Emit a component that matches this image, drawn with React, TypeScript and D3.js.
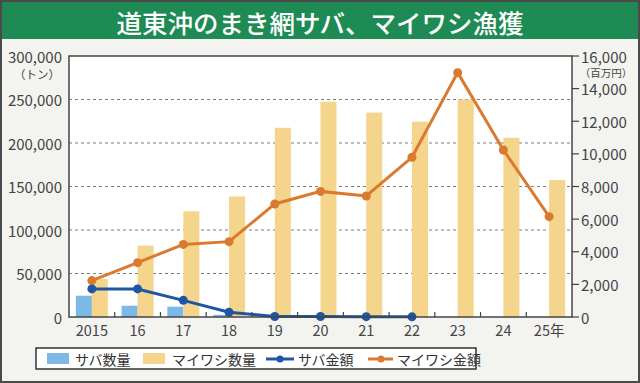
import React from "react";
import * as d3 from "d3";

const years = ["2015", "16", "17", "18", "19", "20", "21", "22", "23", "24", "25年"];
const sabaQty = [24500, 13000, 11800, 2500, 500, 0, 0, 0, 0, 0, 0];
const iwashiQty = [43500, 82000, 121500, 138500, 217500, 247500, 235000, 224500, 250000, 206000, 157500];
const sabaAmt: (number | null)[] = [1720, 1720, 1020, 290, 30, 30, 20, 10, null, null, null];
const iwashiAmt = [2230, 3330, 4450, 4620, 6930, 7700, 7420, 9790, 14980, 10240, 6150];
const leftTicks = [0, 50000, 100000, 150000, 200000, 250000, 300000];
const rightTicks = [0, 2000, 4000, 6000, 8000, 10000, 12000, 14000, 16000];

const W = 640, H = 383;
const L = 69, R = 572, T = 56, B = 317;
const FONT = "'Noto Sans CJK JP', 'Noto Sans', sans-serif";

const C_SABA_BAR = "#7db9e6";
const C_IWASHI_BAR = "#f5d48c";
const C_SABA_LINE = "#1f56a3";
const C_IWASHI_LINE = "#d97a30";

export default function App() {
  const x = d3.scaleBand<string>().domain(years).range([L, R]).padding(0);
  const yL = d3.scaleLinear().domain([0, 300000]).range([B, T]);
  const yR = d3.scaleLinear().domain([0, 16000]).range([B, T]);
  const cx = (i: number) => (x(years[i]) as number) + x.bandwidth() / 2;
  const bw = 16;
  const fmt = d3.format(",");

  const iwashiLine = d3
    .line<number>()
    .x((_, i) => cx(i))
    .y((d) => yR(d))(iwashiAmt) as string;
  const sabaPts = sabaAmt
    .map((v, i) => ({ v, i }))
    .filter((d) => d.v !== null) as { v: number; i: number }[];
  const sabaLine = d3
    .line<{ v: number; i: number }>()
    .x((d) => cx(d.i))
    .y((d) => yR(d.v))(sabaPts) as string;

  return (
    <svg width={W} height={H} style={{ position: "absolute", left: 0, top: 0, fontFamily: FONT }}>
      <rect x={0} y={0} width={W} height={H} fill="#f3f3f0" />
      <rect x={0} y={0} width={W} height={39} fill="#1e8a54" />
      <rect x={1} y={1} width={W - 2} height={H - 2} fill="none" stroke="#4a4a4a" strokeWidth={2} />
      <text x={320} y={21} fill="#ffffff" fontSize={25.5} fontWeight={500} textAnchor="middle" dominantBaseline="central">
        道東沖のまき網サバ、マイワシ漁獲
      </text>

      {/* plot area */}
      <rect x={L} y={T} width={R - L} height={B - T} fill="#ffffff" />

      {/* gridlines */}
      {leftTicks.slice(1, -1).map((t) => (
        <line key={t} x1={L} x2={R} y1={yL(t)} y2={yL(t)} stroke="#7a7a7a" strokeWidth={1} strokeDasharray="3,3" />
      ))}

      {/* bars */}
      {years.map((yr, i) => (
        <g key={yr}>
          {sabaQty[i] > 0 && (
            <rect x={cx(i) - bw} y={yL(sabaQty[i])} width={bw} height={B - yL(sabaQty[i])} fill={C_SABA_BAR} />
          )}
          <rect x={cx(i)} y={yL(iwashiQty[i])} width={bw} height={B - yL(iwashiQty[i])} fill={C_IWASHI_BAR} />
        </g>
      ))}

      {/* lines */}
      <path d={iwashiLine} fill="none" stroke={C_IWASHI_LINE} strokeWidth={3} />
      {iwashiAmt.map((v, i) => (
        <circle key={i} cx={cx(i)} cy={yR(v)} r={4.5} fill={C_IWASHI_LINE} />
      ))}
      <path d={sabaLine} fill="none" stroke={C_SABA_LINE} strokeWidth={3} />
      {sabaPts.map((d) => (
        <circle key={d.i} cx={cx(d.i)} cy={yR(d.v)} r={4.5} fill={C_SABA_LINE} />
      ))}

      {/* frame */}
      <rect x={L} y={T} width={R - L} height={B - T} fill="none" stroke="#444" strokeWidth={1.5} />

      {/* bottom inner ticks */}
      {years.slice(1).map((yr) => (
        <line key={yr} x1={x(yr) as number} x2={x(yr) as number} y1={B} y2={B - 5} stroke="#444" strokeWidth={1.2} />
      ))}

      {/* x labels */}
      {years.map((yr, i) => (
        <text key={yr} x={cx(i)} y={329} fontSize={14.5} fill="#444" textAnchor="middle" dominantBaseline="central">
          {yr}
        </text>
      ))}

      {/* left axis labels */}
      {leftTicks.map((t) => (
        <text key={t} x={62} y={yL(t)} fontSize={15} fill="#444" textAnchor="end" dominantBaseline="central">
          {fmt(t)}
        </text>
      ))}
      <text x={37} y={74} fontSize={11.5} fill="#444" textAnchor="middle" dominantBaseline="central">
        （トン）
      </text>

      {/* right axis */}
      {rightTicks.map((t) => (
        <g key={t}>
          <line x1={R} x2={R + 7} y1={yR(t)} y2={yR(t)} stroke="#444" strokeWidth={1.2} />
          <text x={581} y={yR(t)} fontSize={15} fill="#444" textAnchor="start" dominantBaseline="central">
            {fmt(t)}
          </text>
        </g>
      ))}
      <text x={606} y={72.5} fontSize={10.5} fill="#444" textAnchor="middle" dominantBaseline="central">
        （百万円）
      </text>

      {/* legend */}
      <rect x={36} y={348} width={440} height={21} fill="#ffffff" stroke="#333" strokeWidth={1.5} />
      <rect x={47} y={353} width={22} height={11} fill={C_SABA_BAR} />
      <text x={75} y={359} fontSize={14} fill="#333" dominantBaseline="central">サバ数量</text>
      <rect x={143} y={353} width={22} height={11} fill={C_IWASHI_BAR} />
      <text x={172} y={359} fontSize={14} fill="#333" dominantBaseline="central">マイワシ数量</text>
      <line x1={266} x2={294} y1={359} y2={359} stroke={C_SABA_LINE} strokeWidth={3} />
      <circle cx={280} cy={359} r={3.5} fill={C_SABA_LINE} />
      <text x={298} y={359} fontSize={14} fill="#333" dominantBaseline="central">サバ金額</text>
      <line x1={368} x2={393} y1={359} y2={359} stroke={C_IWASHI_LINE} strokeWidth={3} />
      <circle cx={381} cy={359} r={3.5} fill={C_IWASHI_LINE} />
      <text x={397} y={359} fontSize={14} fill="#333" dominantBaseline="central">マイワシ金額</text>
    </svg>
  );
}
